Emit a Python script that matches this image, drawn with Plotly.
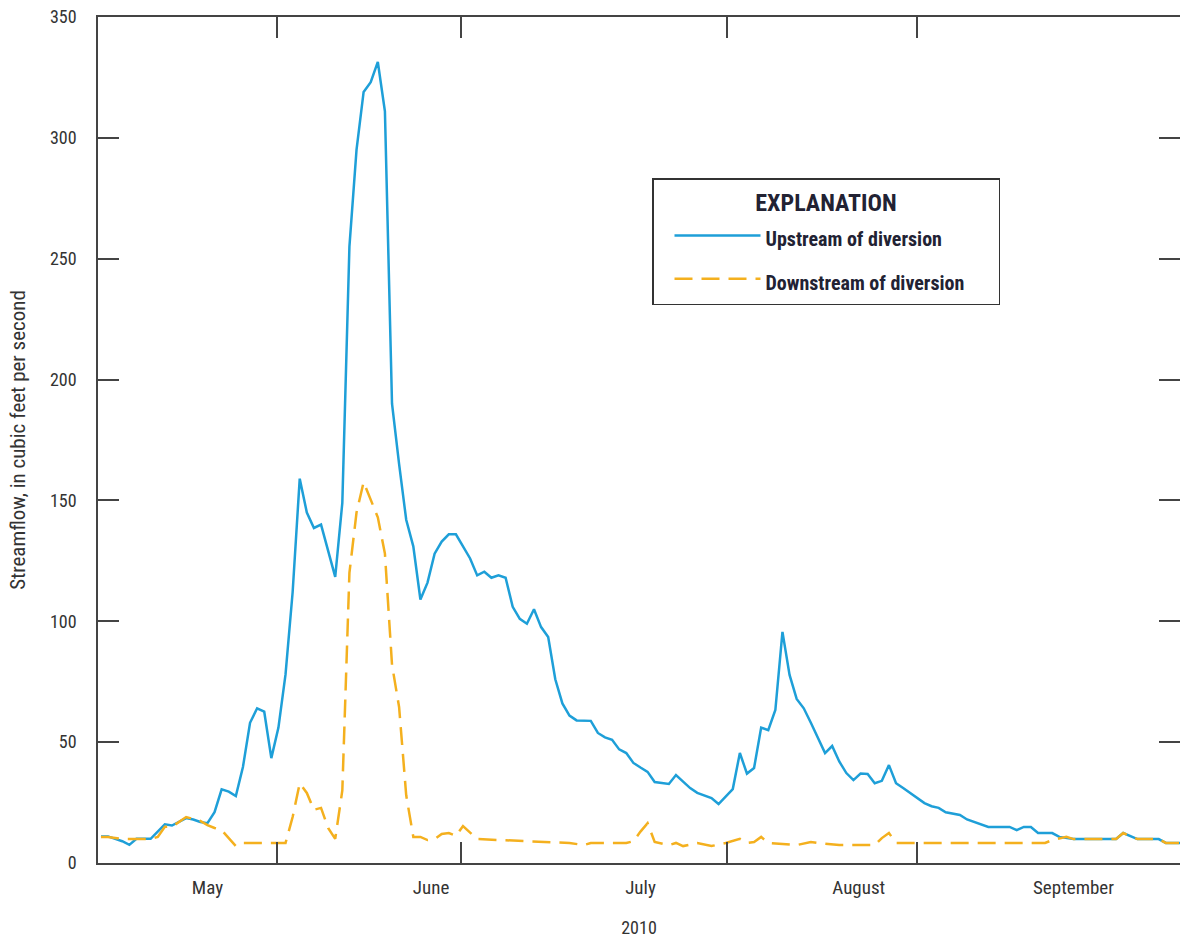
import pandas as pd
import plotly.graph_objects as go

# ---- data (days after 2010-05-01, streamflow in cfs) ----
base_date = "2010-05-01"

up_days = [0, 1, 2, 3, 4, 5, 7, 8, 9, 10, 11, 12, 13, 14, 15, 16, 17, 18, 19, 20,
           21, 22, 23, 24, 25, 26, 27, 28, 29, 30, 31, 32, 33, 34, 35, 36, 37, 38, 39, 40,
           41, 42, 43, 44, 45, 46, 47, 48, 49, 50, 51, 52, 53, 54, 55, 56, 57, 58, 59, 60,
           61, 62, 63, 64, 65, 66, 67, 68, 69, 70, 71, 72, 73, 74, 75, 76, 77, 78, 79, 80,
           81, 82, 83, 84, 85, 86, 87, 88, 89, 90, 91, 92, 93, 94, 95, 96, 97, 98, 99, 100,
           101, 102, 103, 104, 105, 106, 107, 108, 109, 110, 111, 112, 113, 114, 115, 116,
           117, 118, 119, 120, 121, 122, 123, 124, 125, 128, 129, 130, 131, 132, 134, 135,
           137, 143, 144, 146, 149, 150, 152]
up_flow = [11, 11, 10, 9, 7.5, 10, 10, 13, 16, 15.5, 17, 18.6, 18, 17, 16.5, 21, 30.5, 29.5, 27.7, 39.7,
           58, 64, 62.6, 43.4, 56, 78, 112, 159, 145, 138.6, 140, 129, 118.4, 149, 255, 295, 319, 323, 331.4, 311,
           190, 165, 142, 131, 109, 116, 128, 133, 136, 136, 131, 126, 119, 120.5, 118, 119, 118, 106, 101, 99,
           105, 97.6, 93.5, 76, 66, 61, 59, 59, 58.8, 53.8, 52, 51, 47, 45.5, 41.4, 39.5, 37.7, 33.5, 33, 32.7,
           36.4, 33.5, 31, 29, 28, 26.9, 24.4, 27.5, 30.6, 45.5, 37, 39.3, 56, 55, 63.3, 95.6, 77.8, 67.9, 64, 58,
           52, 45.5, 48.4, 42, 37.2, 34.3, 37, 36.8, 33, 34, 40.5, 33, 31, 29, 27, 24.8,
           23.5, 22.8, 21, 20.3, 19.9, 18, 17, 16, 14.9, 14.9, 13.6, 14.9, 14.9, 12.4, 12.4, 10.8,
           9.9, 9.9, 12.4, 9.9, 9.9, 8.3, 8.3]

down_days = [0, 1, 3, 7, 8, 9, 10, 12, 14, 15, 16, 17, 18, 19, 20, 26, 27, 28, 29, 30,
             31, 32, 33, 34, 35, 36, 37, 38, 39, 40, 41, 42, 43, 44, 45, 46, 47, 48, 49, 50,
             51, 53, 60, 64, 66, 68, 69, 74, 75, 76, 77, 78, 80, 81, 82, 84, 86, 88, 90, 91,
             92, 93, 94, 98, 100, 101, 104, 109, 110, 111, 112, 133, 134, 136, 137, 143, 144, 146,
             149, 150, 152]
down_flow = [10.8, 10.8, 9.9, 9.9, 10.8, 15, 15, 19, 17.4, 15.7, 14.5, 13.6, 10.3, 7, 8.3, 8.3, 19, 33, 29, 22,
             22.8, 14.5, 10, 30, 120, 145, 157.6, 150, 143, 128, 82, 64.5, 28, 10.8, 10.8, 9.5, 9.9, 12, 12.4, 11.2,
             15.3, 9.9, 9.0, 8.7, 8.3, 7.4, 8.3, 8.3, 9, 13, 16.5, 8.7, 7.4, 8.3, 7.0, 8.3, 7.0, 8.3, 10, 8.3,
             8.7, 10.8, 8.3, 7.4, 8.7, 8.3, 7.4, 7.4, 10.3, 12.4, 8.3, 8.3, 9.5, 10.8, 9.9, 9.9, 12.4, 9.9,
             9.9, 8.3, 8.3]

month_label_dates = ["2010-05-16", "2010-06-16 12:00", "2010-07-16", "2010-08-15 18:00", "2010-09-15"]
month_labels = ["May", "June", "July", "August", "September"]
tick_mark_dates = ["2010-05-25 18:00", "2010-06-20 18:00", "2010-07-28 05:00", "2010-08-24"]
y_ticks = [0, 50, 100, 150, 200, 250, 300, 350]

series_names = ["Upstream of diversion", "Downstream of diversion"]
legend_title = "EXPLANATION"
x_title = "2010"
y_title = "Streamflow, in cubic feet per second"

# ---- build ----
t0 = pd.Timestamp(base_date)
up_x = t0 + pd.to_timedelta(up_days, unit="D")
down_x = t0 + pd.to_timedelta(down_days, unit="D")

FONT = "Liberation Sans Narrow, Arial Narrow, Roboto Condensed, Roboto, sans-serif"
BLUE = "#1E9FD8"
ORANGE = "#F4B01E"
AX = "#444444"
TXT = "#333333"
LEG = "#222233"

W, H = 1180, 941
ML, MT, MB = 98, 17, 78
NB = "\u00a0"


def leg_label(s):
    return "<span style='font-size:20px'>" + s + "</span>"


fig = go.Figure()
fig.add_trace(go.Scatter(x=up_x, y=up_flow, mode="lines", name=leg_label(series_names[0]),
                         line=dict(color=BLUE, width=2.5), legendgroup="a",
                         hovertemplate="%{x|%b %d}: %{y} cfs<extra>" + series_names[0] + "</extra>"))
fig.add_trace(go.Scatter(x=down_x, y=down_flow, mode="lines", name=leg_label(series_names[1]),
                         line=dict(color=ORANGE, width=2.5, dash="18px,9px"), legendgroup="b",
                         hovertemplate="%{x|%b %d}: %{y} cfs<extra>" + series_names[1] + "</extra>"))

plot_w = W - ML
fig.update_layout(
    width=W, height=H, autosize=False,
    margin=dict(l=ML, r=0, t=MT, b=MB, pad=0),
    paper_bgcolor="white", plot_bgcolor="white",
    font=dict(family=FONT, color=TXT, size=17),
    showlegend=True,
    legend=dict(
        x=(652 - ML) / plot_w, y=(863 - 178) / 846, xanchor="left", yanchor="top",
        bordercolor="#333333", borderwidth=1.5, bgcolor="white",
        title=dict(text=NB * 18 + legend_title + NB * 18, side="top center",
                   font=dict(family=FONT, size=24, color=LEG, weight=700)),
        font=dict(family=FONT, size=28, color=LEG, weight=700),
        traceorder="grouped", tracegroupgap=4, itemwidth=86, indentation=16,
    ),
    xaxis=dict(
        type="date", automargin=False,
        range=["2010-04-30 14:00", "2010-09-30 00:00"],
        tickmode="array", tickvals=month_label_dates, ticktext=month_labels,
        ticks="", ticklabelstandoff=6,
        showline=True, linecolor=AX, linewidth=1.5, mirror="ticks",
        showgrid=False, zeroline=False,
        tickfont=dict(family=FONT, size=19, color=TXT),
        minor=dict(tickmode="array", tickvals=tick_mark_dates, ticks="inside",
                   ticklen=21, tickwidth=1.5, tickcolor=AX, showgrid=False),
        title=dict(text=x_title, font=dict(family=FONT, size=18, color=TXT), standoff=24),
    ),
    yaxis=dict(
        range=[0, 350], tickmode="array", tickvals=y_ticks, automargin=False,
        ticks="inside", ticklen=21, tickwidth=1.5, tickcolor=AX,
        ticklabelstandoff=16,
        showline=True, linecolor=AX, linewidth=1.5, mirror="ticks",
        showgrid=False, zeroline=False,
        tickfont=dict(family=FONT, size=18, color=TXT),
        title=dict(text=y_title + NB * 7,
                   font=dict(family=FONT, size=21, color=TXT), standoff=19),
    ),
)

post = ("document.body.style.margin='0px';"
        "document.body.style.overflow='hidden';"
        "var gd=document.getElementById('{plot_id}');"
        "gd.style.width='1180px';gd.style.height='941px';"
        "Plotly.relayout(gd,{width:1180,height:941});")

fig.write_html("out.html", post_script=post,
               config={"responsive": False, "displayModeBar": False})
